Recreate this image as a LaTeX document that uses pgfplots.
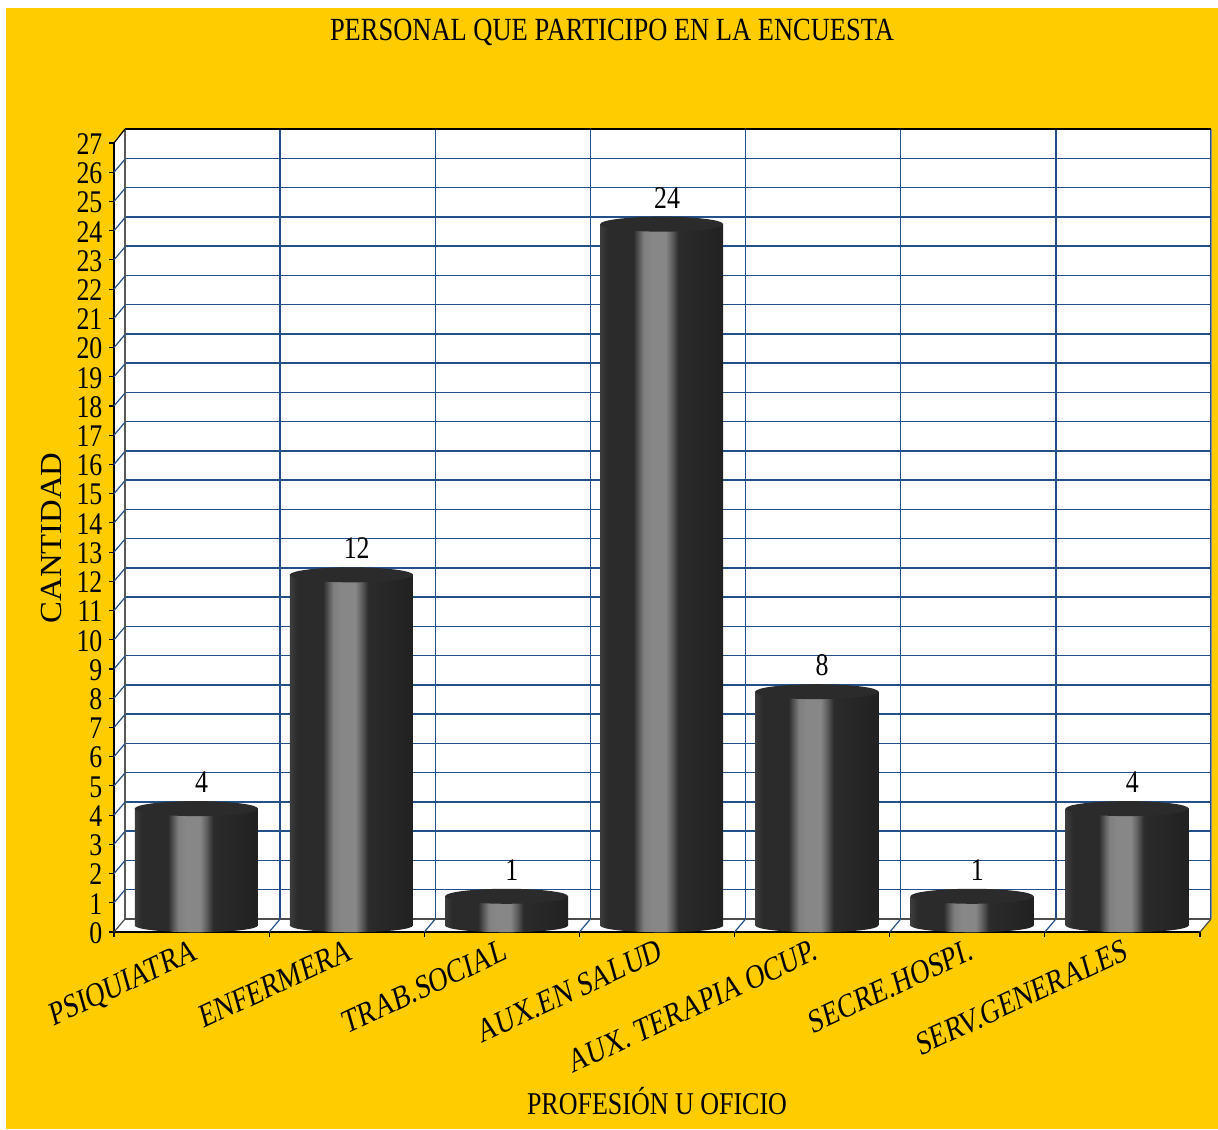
\documentclass[border=0pt]{standalone}
\usepackage{fontspec}
\usepackage{pgfplots}
\pgfplotsset{compat=1.18}
\setmainfont[FakeStretch=0.82]{Liberation Serif}
\newfontfamily\plainserif{Liberation Serif}
\newfontfamily\wideserif[FakeStretch=1.07]{Liberation Serif}

\definecolor{panel}{HTML}{FFCC00}
\definecolor{gridblue}{HTML}{24508A}
\definecolor{capdark}{HTML}{2B2B2B}

% Metallic sheen across the width of a cylinder (path box spans 25bp to 75bp)
\pgfdeclarehorizontalshading{cyl}{100bp}{
  color(0bp)=(capdark!92!white);
  color(25bp)=(capdark!92!white);
  color(28bp)=(capdark);
  color(38.5bp)=(capdark);
  color(40.5bp)=(black!67!white);
  color(42.75bp)=(black!50!white);
  color(46bp)=(black!47!white);
  color(51.5bp)=(black!47!white);
  color(54bp)=(black!62!white);
  color(56.85bp)=(capdark);
  color(75bp)=(black!87!white);
  color(100bp)=(black!87!white)}

\pgfdeclareplotmark{cyltop}{%
  \pgfpathellipse{\pgfpointorigin}{\pgfpoint{30.75pt}{0pt}}{\pgfpoint{0pt}{3.75pt}}%
  \pgfsetfillcolor{capdark}\pgfusepathqfill}
\pgfdeclareplotmark{cylbase}{%
  \pgfpathellipse{\pgfpointorigin}{\pgfpoint{30.75pt}{0pt}}{\pgfpoint{0pt}{3.4pt}}%
  \pgfshadepath{cyl}{0}\pgfusepath{discard}}

\pgfplotstableread{
x    y
0.5  4
1.5  12
2.5  1
3.5  24
4.5  8
5.5  1
6.5  4
}\personal

\newcommand{\basefont}{\fontsize{15.75}{18}\selectfont}

\begin{document}
\begin{tikzpicture}
\path[use as bounding box] (0,0) rectangle (609pt,564.5pt);
\fill[white] (0,0) rectangle (609pt,564.5pt);
\fill[panel] (3pt,0) rectangle (609pt,560.5pt);

% Side wall and floor of the box
\begin{scope}[shift={(0,564.5pt)},x=0.5pt,y=-0.5pt]
  \fill[white] (114,143) -- (125,129) -- (125,919) -- (114,932) -- cycle;
  \fill[white] (114,932) -- (125,919) -- (1211,919) -- (1200,932) -- cycle;
\end{scope}

% Back wall
\begin{axis}[
  at={(62.5pt,105pt)}, anchor=origin,
  scale only axis, width=543pt, height=395pt,
  xmin=0, xmax=7, ymin=0, ymax=27,
  xtick={0,...,7}, ytick={0,...,27},
  xticklabels={}, yticklabels={},
  tick style={draw=none},
  grid=major,
  grid style={gridblue, line width=0.75pt},
  axis line style={draw=none},
  axis background/.style={fill=white},
  clip=false,
]
  \draw[black, line width=0.8pt] (rel axis cs:0,1) -- (rel axis cs:1,1);
  \draw[black!65, line width=0.7pt] (rel axis cs:0,0) -- (rel axis cs:0,1);
  \draw[black!70, line width=0.7pt] (rel axis cs:0,0) -- (rel axis cs:1,0);
  \draw[black!45, line width=0.5pt] (rel axis cs:1,0) -- (rel axis cs:1,1);
\end{axis}

% Front axes, cylinders and labels
\begin{axis}[
  at={(57pt,98.5pt)}, anchor=origin,
  scale only axis, width=543pt, height=394.5pt,
  xmin=0, xmax=7, ymin=0, ymax=27,
  axis lines=left,
  axis line style={-},
  x axis line style={line width=1.3pt},
  y axis line style={line width=0.9pt},
  xtick={0,...,7}, ytick={0,...,27},
  x tick label as interval,
  xticklabels={PSIQUIATRA,ENFERMERA,TRAB.SOCIAL,AUX.EN SALUD,AUX. TERAPIA OCUP.,SECRE.HOSPI.,SERV.GENERALES},
  major tick length=2.6pt,
  tick style={black, line width=0.6pt},
  tick align=outside,
  clip=false,
  /pgf/number format/assume math mode=true,
  tick label style={font=\basefont},
  yticklabel style={inner sep=0pt, xshift=-3pt, yshift=-0.5pt, anchor=east},
  xticklabel style={
    font=\plainserif\fontsize{13.2}{15}\selectfont,
    inner sep=0pt, anchor=north east, xshift=0.6pt, yshift=0pt,
    cm={0.94,0.438,-0.342,1.203,(0,0)}},
  title={PERSONAL QUE PARTICIPO EN LA ENCUESTA},
  title style={font=\fontsize{16.15}{18}\selectfont, at={(axis description cs:0.4586,1.143)}, anchor=center, yshift=-7pt},
  xlabel={PROFESIÓN U OFICIO},
  xlabel style={font=\fontsize{15.85}{18}\selectfont, at={(axis description cs:0.5,-0.218)}, anchor=center, yshift=1.5pt},
  ylabel={CANTIDAD},
  ylabel style={font=\wideserif\fontsize{15.3}{18}\selectfont, at={(axis description cs:-0.0571,0.4994)}, anchor=center, rotate=0},
  nodes near coords style={font=\basefont, anchor=center, inner sep=0pt},
  cylinder/.style={ybar, bar width=61.5pt, bar shift=0pt, draw=none, shading=cyl, xshift=2.35pt, yshift=3.25pt},
]
  % Slanted grid lines on the side wall and the floor
  \pgfplotsinvokeforeach{1,...,26}{
    \draw[gridblue, line width=0.6pt] (axis cs:0,#1) -- ++(5.5pt,6.5pt);
  }
  \pgfplotsinvokeforeach{1,...,6}{
    \draw[gridblue, line width=0.6pt] (axis cs:#1,0) -- ++(5.5pt,6.5pt);
  }
  \draw[black, line width=0.6pt] (axis cs:0,27) -- ++(5.5pt,7pt);
  \draw[black!70, line width=0.6pt] (axis cs:0,0) -- ++(5.5pt,6.5pt);
  \draw[black!70, line width=0.6pt] (axis cs:7,0) -- ++(5.5pt,6.5pt);

  % Rounded foot of each cylinder
  \addplot[only marks, mark=cylbase, xshift=2.35pt, yshift=3.25pt]
    coordinates {(0.5,0) (1.5,0) (2.5,0) (3.5,0) (4.5,0) (5.5,0) (6.5,0)};
  % Cylinder bodies, one plot each so that every body gets its own sheen
  \addplot[cylinder] coordinates {(0.5,4)};
  \addplot[cylinder] coordinates {(1.5,12)};
  \addplot[cylinder] coordinates {(2.5,1)};
  \addplot[cylinder] coordinates {(3.5,24)};
  \addplot[cylinder] coordinates {(4.5,8)};
  \addplot[cylinder] coordinates {(5.5,1)};
  \addplot[cylinder] coordinates {(6.5,4)};
  % Cylinder tops, carrying the value labels
  \addplot[only marks, mark=cyltop, xshift=2.35pt, yshift=3.25pt,
    nodes near coords,
    every node near coord/.append style={xshift=2.65pt, yshift=13.2pt}]
    table[x=x,y=y] {\personal};
\end{axis}
\end{tikzpicture}
\end{document}
